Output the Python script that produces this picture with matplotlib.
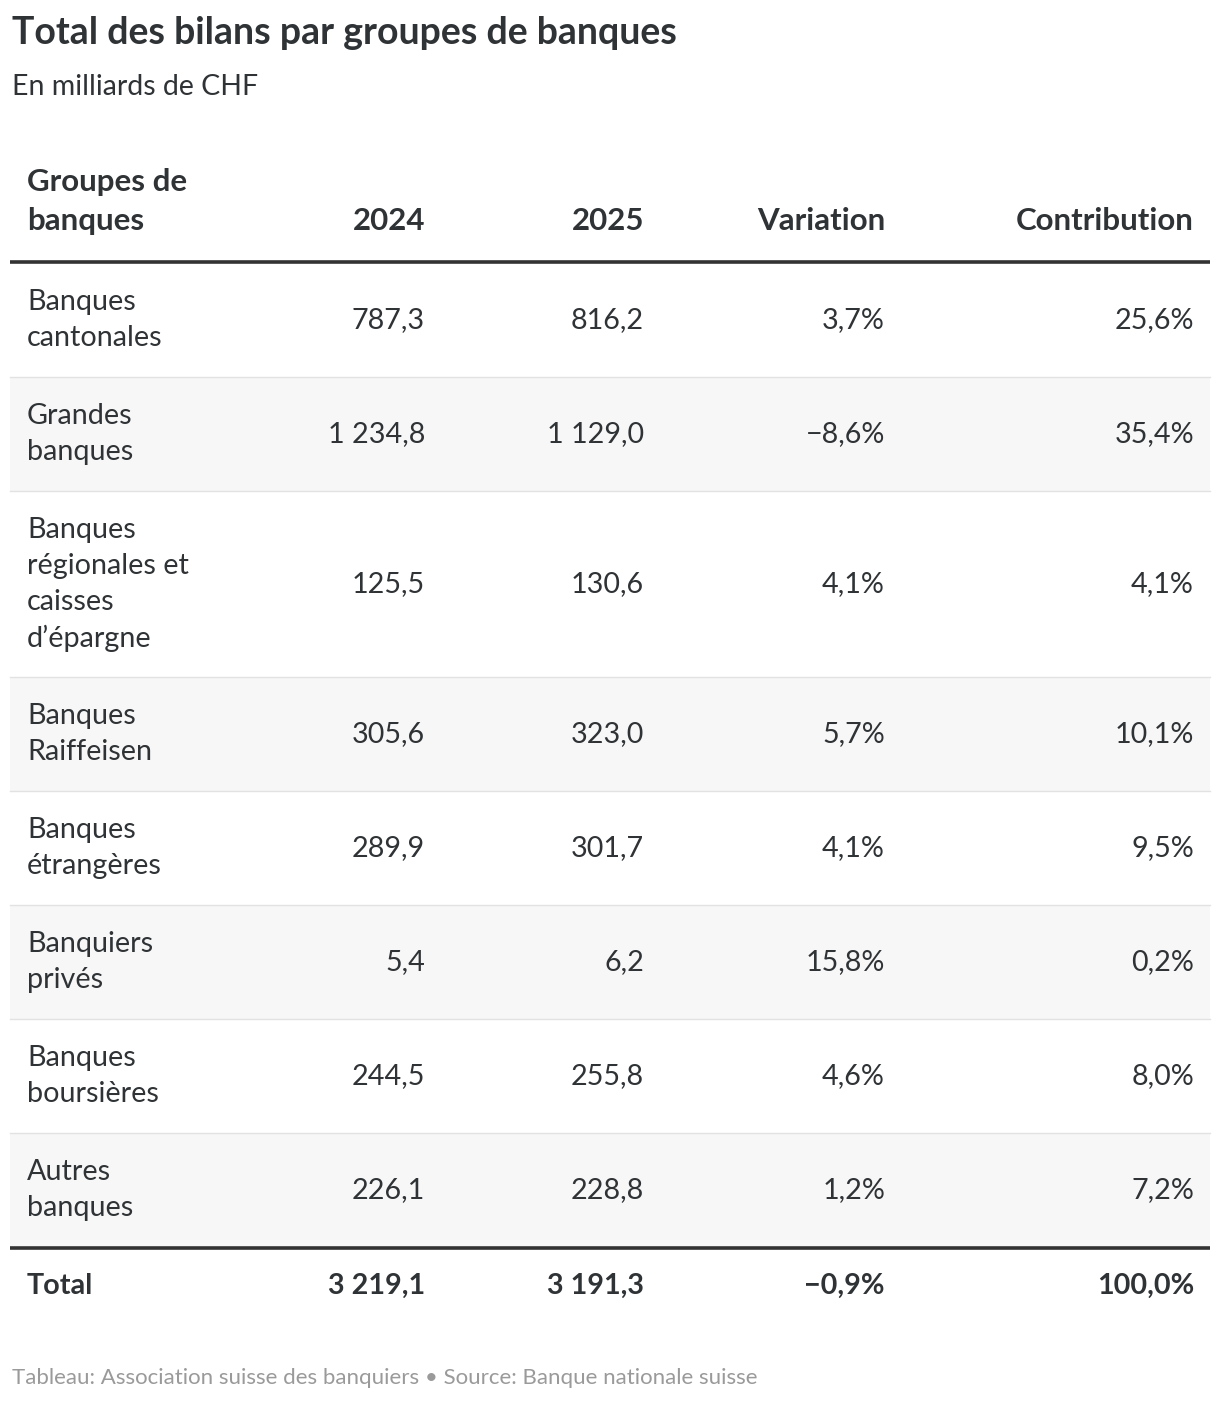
import matplotlib
matplotlib.use("Agg")
import matplotlib.pyplot as plt
from matplotlib.patches import Rectangle

plt.rcParams['font.family'] = ['Lato', 'DejaVu Sans']

title = "Total des bilans par groupes de banques"
subtitle = "En milliards de CHF"
footer = "Tableau: Association suisse des banquiers \u2022 Source: Banque nationale suisse"

headers = ["Groupes de\nbanques", "2024", "2025", "Variation", "Contribution"]
groups = ["Banques\ncantonales", "Grandes\nbanques", "Banques\nrégionales et\ncaisses\nd’épargne",
          "Banques\nRaiffeisen", "Banques\nétrangères", "Banquiers\nprivés",
          "Banques\nboursières", "Autres\nbanques"]
y2024 = [787.3, 1234.8, 125.5, 305.6, 289.9, 5.4, 244.5, 226.1]
y2025 = [816.2, 1129.0, 130.6, 323.0, 301.7, 6.2, 255.8, 228.8]
variation = [3.7, -8.6, 4.1, 5.7, 4.1, 15.8, 4.6, 1.2]
contribution = [25.6, 35.4, 4.1, 10.1, 9.5, 0.2, 8.0, 7.2]
total = ["Total", 3219.1, 3191.3, -0.9, 100.0]

TXT = "#2f3336"


def fmt_num(v):
    s = f"{abs(v):,.1f}".replace(",", " ").replace(".", ",")
    return ("\u2212" if v < 0 else "") + s


def fmt_pct(v):
    return fmt_num(v) + "%"


W, H = 1220, 1404
fig = plt.figure(figsize=(W / 100, H / 100), dpi=100)
ax = fig.add_axes([0, 0, 1, 1])
ax.set_xlim(0, W)
ax.set_ylim(H, 0)
ax.axis("off")

ax.text(12, 33, title, fontsize=27, fontweight="bold", color=TXT, va="center", ha="left")
ax.text(12, 87, subtitle, fontsize=20.5, color=TXT, va="center", ha="left")

col_x = [27, 425, 644, 885, 1194]
col_ha = ["left", "right", "right", "right", "right"]
FS = 20.7
HFS = 22.5
LS = 36

# header
for j, h in enumerate(headers):
    lines = h.split("\n")
    n = len(lines)
    for k, ln in enumerate(lines):
        y = 221 - (n - 1 - k) * (LS + 3)
        ax.text(col_x[j], y, ln, fontsize=HFS, fontweight="bold", color=TXT,
                va="center", ha=col_ha[j])
ax.plot([10, 1210], [262, 262], color="#333333", lw=2.6, solid_capstyle="butt")

y0 = 263
for i, g in enumerate(groups):
    n = g.count("\n") + 1
    h = 42 + LS * n
    if i % 2 == 1:
        ax.add_patch(Rectangle((10, y0), 1200, h, facecolor="#f7f7f7", edgecolor="none", zorder=0))
    yc = y0 + h / 2
    for k, ln in enumerate(g.split("\n")):
        ax.text(col_x[0], yc + (k - (n - 1) / 2) * LS, ln, fontsize=FS, color=TXT,
                va="center", ha="left")
    vals = [fmt_num(y2024[i]), fmt_num(y2025[i]), fmt_pct(variation[i]), fmt_pct(contribution[i])]
    for j, v in enumerate(vals):
        ax.text(col_x[j + 1], yc, v, fontsize=FS, color=TXT, va="center", ha="right")
    y0 += h
    if i < len(groups) - 1:
        ax.plot([10, 1210], [y0, y0], color="#e2e2e2", lw=1)

ax.plot([10, 1210], [y0 + 1, y0 + 1], color="#333333", lw=2.6, solid_capstyle="butt")

tv = [total[0], fmt_num(total[1]), fmt_num(total[2]), fmt_pct(total[3]), fmt_pct(total[4])]
for j, v in enumerate(tv):
    ax.text(col_x[j], 1286, v, fontsize=FS, fontweight="bold", color=TXT,
            va="center", ha=col_ha[j])

ax.text(12, 1378, footer, fontsize=16, color="#9a9a9a", va="center", ha="left")

fig.savefig("out.png", dpi=100, facecolor="white")
